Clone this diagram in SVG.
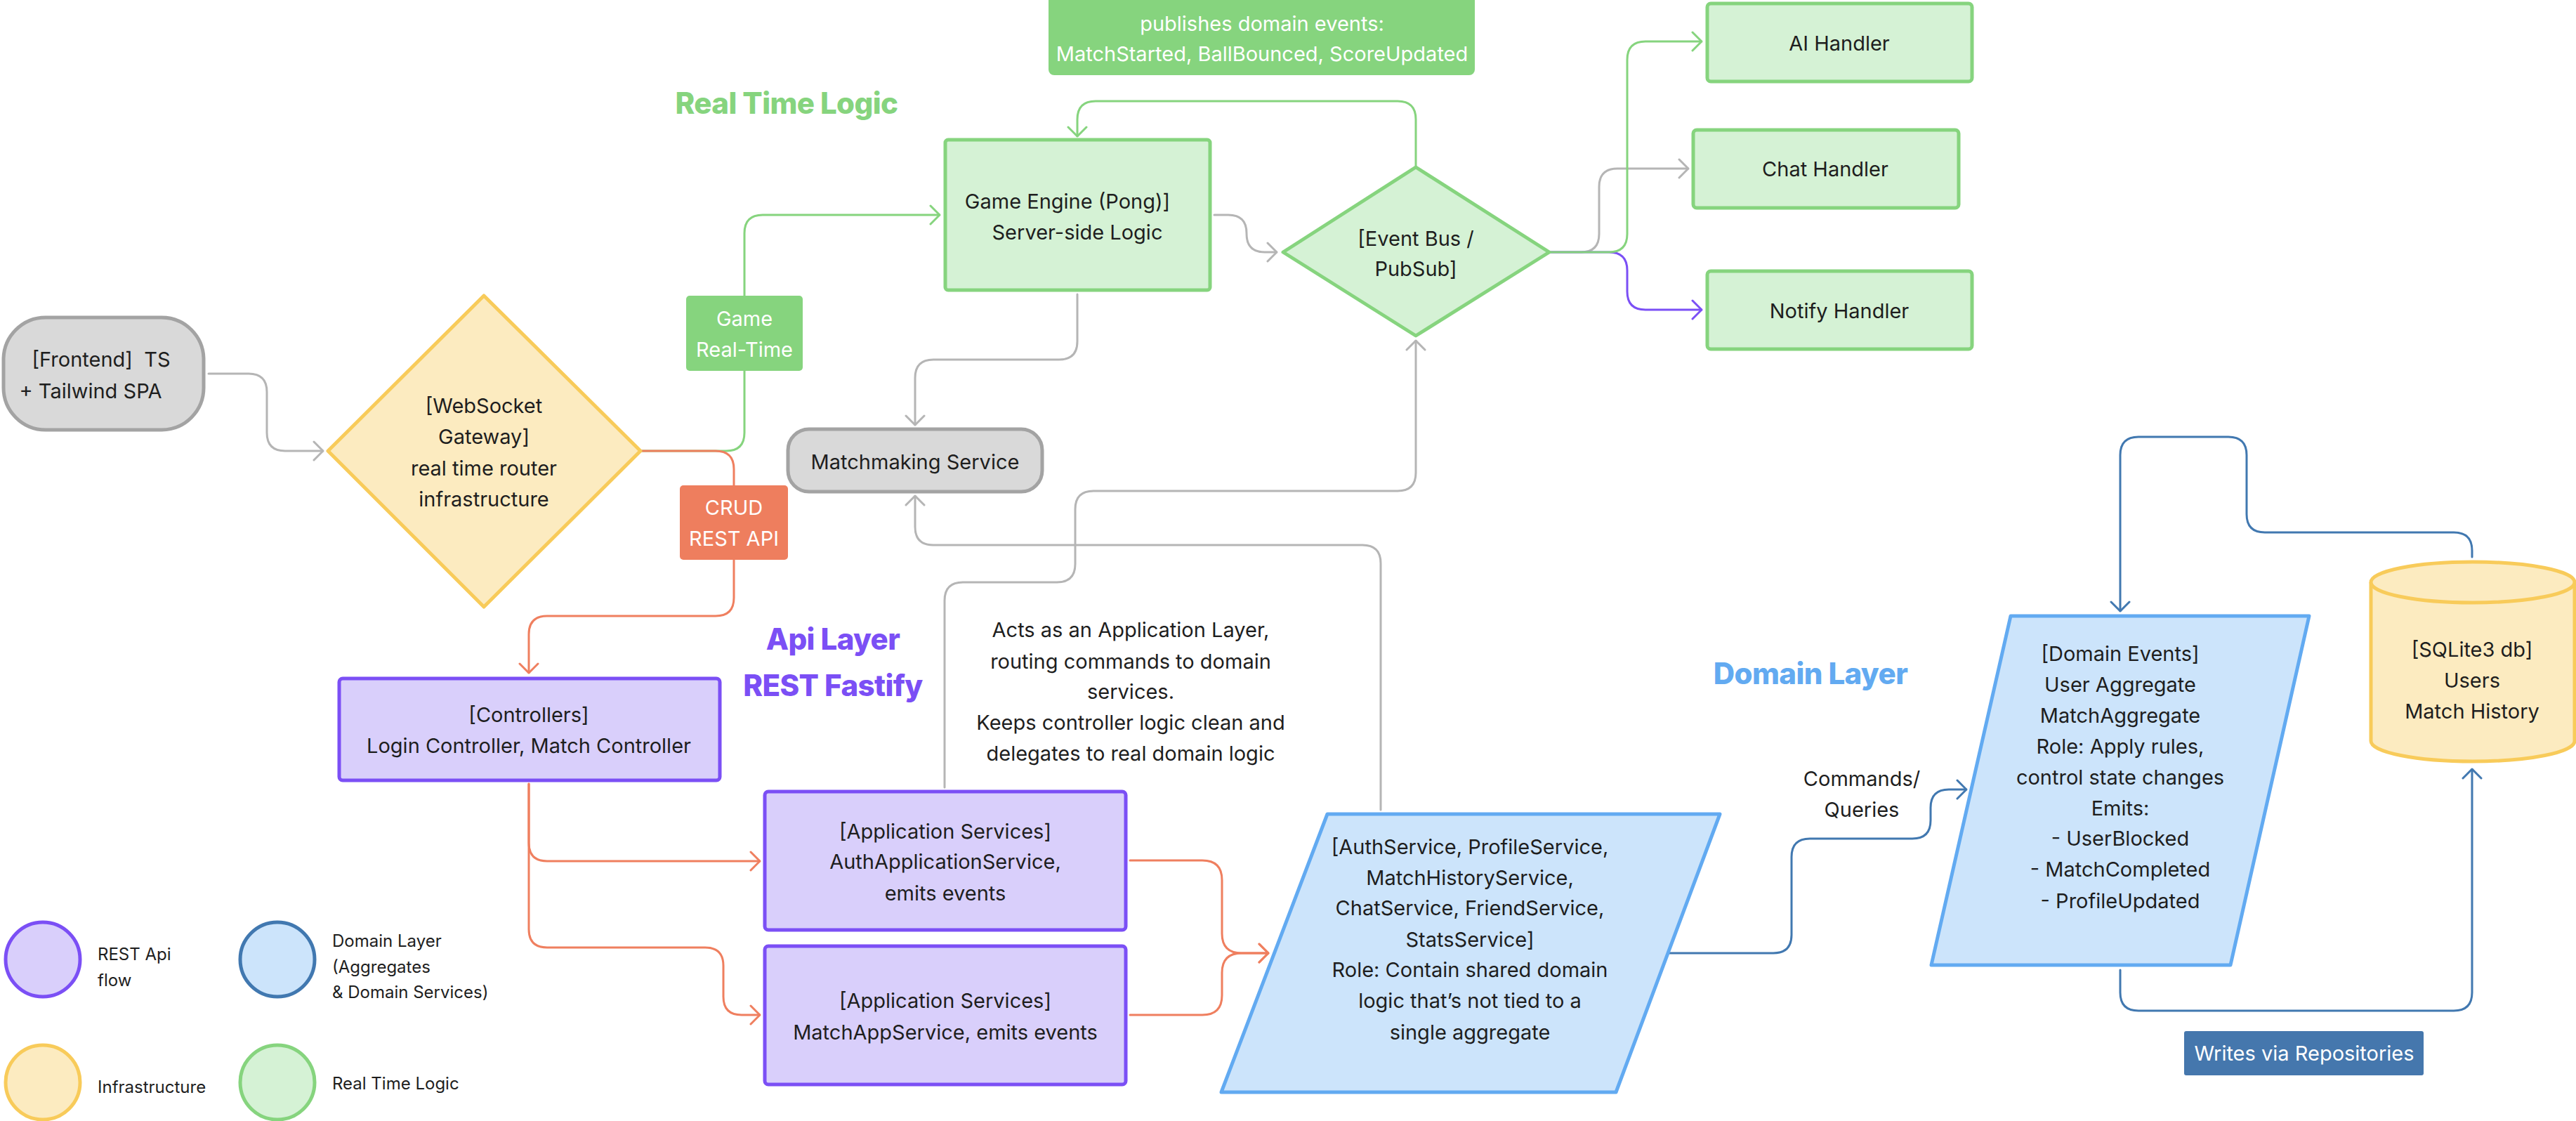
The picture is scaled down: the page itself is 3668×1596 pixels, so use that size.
<svg xmlns="http://www.w3.org/2000/svg" width="3668" height="1596" viewBox="0 0 3668 1596">
<style>
text { font-family: Inter, "Noto Sans", "Liberation Sans", sans-serif; font-size: 29px; fill: #1e1e1e; text-anchor: middle; dominant-baseline: central; }
.w { fill: #ffffff; }
.title { font-weight: 800; font-size: 42px; letter-spacing: -0.6px; }
.leg { font-size: 24px; text-anchor: start; }
.c { fill: none; stroke-width: 3; stroke-linecap: round; stroke-linejoin: round; }
.gray { stroke: #b5b5b5; }
.green { stroke: #86d47e; }
.orange { stroke: #ef7f5f; }
.purple { stroke: #7b4ff5; }
.blue { stroke: #4178b0; }
.ng { fill: #d9d9d9; stroke: #a3a3a3; stroke-width: 5; }
.ny { fill: #fcebc0; stroke: #f8cb5a; stroke-width: 5; stroke-linejoin: round; }
.ngr { fill: #d5f2d5; stroke: #86d47e; stroke-width: 5; stroke-linejoin: round; }
.np { fill: #d9cffb; stroke: #7b4ff5; stroke-width: 5; }
.nb { fill: #cce4fb; stroke: #62aaf1; stroke-width: 5; stroke-linejoin: round; }
.nbd { fill: #cce4fb; stroke: #4178b0; stroke-width: 5; }
</style>
<defs>
<marker id="ag" viewBox="0 0 16 30" refX="15" refY="15" markerWidth="16" markerHeight="30" markerUnits="userSpaceOnUse" orient="auto"><path d="M2,2 L15,15 L2,28" fill="none" stroke="#b5b5b5" stroke-width="3" stroke-linecap="round" stroke-linejoin="round"/></marker>
<marker id="agr" viewBox="0 0 16 30" refX="15" refY="15" markerWidth="16" markerHeight="30" markerUnits="userSpaceOnUse" orient="auto"><path d="M2,2 L15,15 L2,28" fill="none" stroke="#86d47e" stroke-width="3" stroke-linecap="round" stroke-linejoin="round"/></marker>
<marker id="aor" viewBox="0 0 16 30" refX="15" refY="15" markerWidth="16" markerHeight="30" markerUnits="userSpaceOnUse" orient="auto"><path d="M2,2 L15,15 L2,28" fill="none" stroke="#ef7f5f" stroke-width="3" stroke-linecap="round" stroke-linejoin="round"/></marker>
<marker id="apu" viewBox="0 0 16 30" refX="15" refY="15" markerWidth="16" markerHeight="30" markerUnits="userSpaceOnUse" orient="auto"><path d="M2,2 L15,15 L2,28" fill="none" stroke="#7b4ff5" stroke-width="3" stroke-linecap="round" stroke-linejoin="round"/></marker>
<marker id="abl" viewBox="0 0 16 30" refX="15" refY="15" markerWidth="16" markerHeight="30" markerUnits="userSpaceOnUse" orient="auto"><path d="M2,2 L15,15 L2,28" fill="none" stroke="#4178b0" stroke-width="3" stroke-linecap="round" stroke-linejoin="round"/></marker>
</defs>
<rect width="3668" height="1596" fill="#ffffff"/>

<g id="connectors">
  <path class="c gray" d="M297,532 H354 Q380,532 380,558 V616 Q380,642 406,642 H460" marker-end="url(#ag)"/>
  <path class="c green" d="M912,642 H1034 Q1060,642 1060,616 V332 Q1060,306 1086,306 H1338" marker-end="url(#agr)"/>
  <path class="c orange" d="M912,642 H1019 Q1045,642 1045,668 V851 Q1045,877 1019,877 H779 Q753,877 753,903 V958" marker-end="url(#aor)"/>
  <path class="c gray" d="M1729,306 H1749 Q1775,306 1775,332 V333 Q1775,359 1801,359 H1818" marker-end="url(#ag)"/>
  <path class="c green" d="M2016,238 V170 Q2016,144 1990,144 H1560 Q1534,144 1534,170 V194" marker-end="url(#agr)"/>
  <path class="c gray" d="M2206,359 H2251 Q2277,359 2277,333 V266 Q2277,240 2303,240 H2404" marker-end="url(#ag)"/>
  <path class="c purple" d="M2206,359 H2291 Q2317,359 2317,385 V415 Q2317,441 2343,441 H2423" marker-end="url(#apu)"/>
  <path class="c green" d="M2206,359 H2291 Q2317,359 2317,333 V85 Q2317,59 2343,59 H2423" marker-end="url(#agr)"/>
  <path class="c gray" d="M1534,419 V486 Q1534,512 1508,512 H1329 Q1303,512 1303,538 V605" marker-end="url(#ag)"/>
  <path class="c gray" d="M1966,1153 V802 Q1966,776 1940,776 H1329 Q1303,776 1303,750 V706" marker-end="url(#ag)"/>
  <path class="c gray" d="M1345,1121 V855 Q1345,829 1371,829 H1505 Q1531,829 1531,803 V725 Q1531,699 1557,699 H1990 Q2016,699 2016,673 V485" marker-end="url(#ag)"/>
  <path class="c orange" d="M753,1116 V1200 Q753,1226 779,1226 H1082" marker-end="url(#aor)"/>
  <path class="c orange" d="M753,1116 V1323 Q753,1349 779,1349 H1004 Q1030,1349 1030,1375 V1419 Q1030,1445 1056,1445 H1082" marker-end="url(#aor)"/>
  <path class="c orange" d="M1609,1225 H1712 Q1740,1225 1740,1253 V1329 Q1740,1357 1768,1357 H1806" marker-end="url(#aor)"/>
  <path class="c orange" d="M1609,1445 H1712 Q1740,1445 1740,1417 V1385 Q1740,1357 1768,1357 H1806" marker-end="url(#aor)"/>
  <path class="c blue" d="M2376,1357 H2525 Q2551,1357 2551,1331 V1220 Q2551,1194 2577,1194 H2723 Q2749,1194 2749,1168 V1150 Q2749,1124 2775,1124 H2800" marker-end="url(#abl)"/>
  <path class="c blue" d="M3520,793 V784 Q3520,758 3494,758 H3225 Q3199,758 3199,732 V648 Q3199,622 3173,622 H3045 Q3019,622 3019,648 V870" marker-end="url(#abl)"/>
  <path class="c blue" d="M3019,1381 V1413 Q3019,1439 3045,1439 H3494 Q3520,1439 3520,1413 V1095" marker-end="url(#abl)"/>
</g>

<g id="frontend">
  <rect class="ng" x="5" y="452" width="285" height="160" rx="60"/>
  <text x="144" y="511" style="white-space:pre">[Frontend]  TS</text>
  <text x="129" y="556">+ Tailwind SPA</text>
</g>

<g id="websocket-gateway">
  <polygon class="ny" points="689,421 912,642 689,864 467,642"/>
  <text x="689" y="577">[WebSocket</text>
  <text x="689" y="621">Gateway]</text>
  <text x="689" y="666">real time router</text>
  <text x="689" y="710">infrastructure</text>
</g>

<g id="label-game-realtime">
  <rect x="977" y="421" width="166" height="107" rx="5" fill="#86d47e"/>
  <text class="w" x="1060" y="453">Game</text>
  <text class="w" x="1060" y="497">Real-Time</text>
</g>

<g id="label-crud">
  <rect x="968" y="691" width="154" height="106" rx="5" fill="#ee7e5e"/>
  <text class="w" x="1045" y="722">CRUD</text>
  <text class="w" x="1045" y="766">REST API</text>
</g>

<g id="title-realtime">
  <text class="title" x="1120" y="146" style="fill:#86d47e">Real Time Logic</text>
</g>

<g id="label-publishes">
  <rect x="1493" y="-8" width="607" height="115" rx="8" fill="#86d47e"/>
  <text class="w" x="1797" y="33">publishes domain events:</text>
  <text class="w" x="1797" y="76">MatchStarted, BallBounced, ScoreUpdated</text>
</g>

<g id="game-engine">
  <rect class="ngr" x="1346" y="199" width="377" height="214" rx="4"/>
  <text x="1520" y="286">Game Engine (Pong)]</text>
  <text x="1534" y="330">Server-side Logic</text>
</g>

<g id="event-bus">
  <polygon class="ngr" points="2016,238 2206,359 2016,478 1827,359"/>
  <text x="2016" y="339">[Event Bus /</text>
  <text x="2016" y="382">PubSub]</text>
</g>

<g id="ai-handler">
  <rect class="ngr" x="2431" y="5" width="377" height="111" rx="5"/>
  <text x="2619" y="61">AI Handler</text>
</g>
<g id="chat-handler">
  <rect class="ngr" x="2411" y="185" width="378" height="111" rx="5"/>
  <text x="2599" y="240">Chat Handler</text>
</g>
<g id="notify-handler">
  <rect class="ngr" x="2431" y="386" width="377" height="111" rx="5"/>
  <text x="2619" y="442">Notify Handler</text>
</g>

<g id="matchmaking">
  <rect class="ng" x="1122" y="611" width="362" height="89" rx="30"/>
  <text x="1303" y="657">Matchmaking Service</text>
</g>

<g id="title-api">
  <text class="title" x="1186" y="909" style="fill:#7b4ff5">Api Layer</text>
  <text class="title" x="1186" y="975" style="fill:#7b4ff5">REST Fastify</text>
</g>

<g id="app-layer-note">
  <text x="1610" y="896">Acts as an Application Layer,</text>
  <text x="1610" y="941">routing commands to domain</text>
  <text x="1610" y="984">services.</text>
  <text x="1610" y="1028">Keeps controller logic clean and</text>
  <text x="1610" y="1072">delegates to real domain logic</text>
</g>

<g id="controllers">
  <rect class="np" x="483" y="966" width="542" height="145" rx="5"/>
  <text x="753" y="1017">[Controllers]</text>
  <text x="753" y="1061">Login Controller, Match Controller</text>
</g>

<g id="auth-app-service">
  <rect class="np" x="1089" y="1127" width="514" height="197" rx="5"/>
  <text x="1346" y="1183">[Application Services]</text>
  <text x="1346" y="1226">AuthApplicationService,</text>
  <text x="1346" y="1271">emits events</text>
</g>

<g id="match-app-service">
  <rect class="np" x="1089" y="1347" width="514" height="197" rx="5"/>
  <text x="1346" y="1424">[Application Services]</text>
  <text x="1346" y="1469">MatchAppService, emits events</text>
</g>

<g id="domain-services">
  <polygon class="nb" points="1890,1159 2449,1159 2301,1555 1739,1555"/>
  <text x="2093" y="1205">[AuthService, ProfileService,</text>
  <text x="2093" y="1249">MatchHistoryService,</text>
  <text x="2093" y="1292">ChatService, FriendService,</text>
  <text x="2093" y="1337">StatsService]</text>
  <text x="2093" y="1380">Role: Contain shared domain</text>
  <text x="2093" y="1424">logic that’s not tied to a</text>
  <text x="2093" y="1469">single aggregate</text>
</g>

<g id="title-domain">
  <text class="title" x="2578" y="958" style="fill:#62aaf1">Domain Layer</text>
</g>

<g id="label-commands">
  <text x="2651" y="1108">Commands/</text>
  <text x="2651" y="1152">Queries</text>
</g>

<g id="domain-events">
  <polygon class="nb" points="2863,877 3288,877 3176,1374 2750,1374"/>
  <text x="3019" y="930">[Domain Events]</text>
  <text x="3019" y="974">User Aggregate</text>
  <text x="3019" y="1018">MatchAggregate</text>
  <text x="3019" y="1062">Role: Apply rules,</text>
  <text x="3019" y="1106">control state changes</text>
  <text x="3019" y="1150">Emits:</text>
  <text x="3019" y="1193">- UserBlocked</text>
  <text x="3019" y="1237">- MatchCompleted</text>
  <text x="3019" y="1282">- ProfileUpdated</text>
</g>

<g id="sqlite-db">
  <path class="ny" d="M3376,829 V1055 A145,29 0 0 0 3666,1055 V829"/>
  <ellipse class="ny" cx="3521" cy="829" rx="145" ry="29"/>
  <text x="3520" y="924">[SQLite3 db]</text>
  <text x="3520" y="968">Users</text>
  <text x="3520" y="1012">Match History</text>
</g>

<g id="label-writes">
  <rect x="3110" y="1468" width="341" height="63" rx="3" fill="#4577ad"/>
  <text class="w" x="3281" y="1499">Writes via Repositories</text>
</g>

<g id="legend">
  <circle cx="61" cy="1366" r="53" class="np"/>
  <text class="leg" x="139" y="1358">REST Api</text>
  <text class="leg" x="139" y="1395">flow</text>
  <circle cx="395" cy="1366" r="53" class="nbd"/>
  <text class="leg" x="473" y="1339">Domain Layer</text>
  <text class="leg" x="473" y="1376">(Aggregates</text>
  <text class="leg" x="473" y="1412">&amp; Domain Services)</text>
  <circle cx="61" cy="1541" r="53" class="ny"/>
  <text class="leg" x="139" y="1547">Infrastructure</text>
  <circle cx="395" cy="1541" r="53" class="ngr"/>
  <text class="leg" x="473" y="1542">Real Time Logic</text>
</g>
</svg>
